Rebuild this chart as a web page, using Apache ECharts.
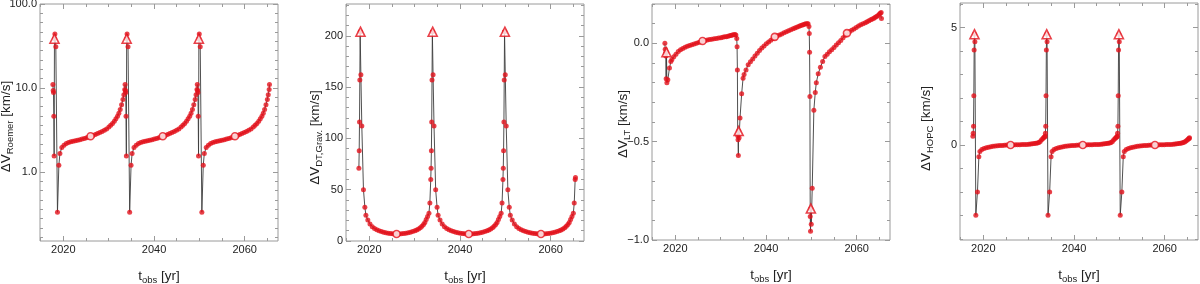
<!DOCTYPE html>
<html><head><meta charset="utf-8">
<script src="https://cdn.jsdelivr.net/npm/echarts@6/dist/echarts.min.js"></script>
<style>html,body{margin:0;padding:0;background:#fff}#c{width:1200px;height:284px}</style>
</head><body><div id="c"></div>
<script>
// observation times [yr]
const tObs = [
2017.70,2017.77,2017.84,2017.91,2017.98,2018.05,2018.14,2018.35,2018.71,2019.02,2019.25,2019.67,
2020.15,2020.65,2021.15,2021.65,2022.15,2022.65,2023.15,2023.65,2024.15,2024.65,2025.15,2025.65,2026.01,
2026.55,2027.05,2027.55,2028.05,2028.55,2029.05,2029.55,2030.05,2030.45,2030.85,2031.25,2031.60,2031.95,
2032.25,2032.55,2032.85,2033.15,2033.35,2033.55,
2033.62,2033.69,2033.76,2033.83,2033.90,2033.97,2034.06,2034.27,2034.63,2034.94,2035.17,2035.59,
2036.07,2036.57,2037.07,2037.57,2038.07,2038.57,2039.07,2039.57,2040.07,2040.57,2041.07,2041.57,2041.93,
2042.47,2042.97,2043.47,2043.97,2044.47,2044.97,2045.47,2045.97,2046.37,2046.77,2047.17,2047.52,2047.87,
2048.17,2048.47,2048.77,2049.07,2049.27,2049.47,
2049.54,2049.61,2049.68,2049.75,2049.82,2049.89,2049.98,2050.19,2050.55,2050.86,2051.09,2051.51,
2051.99,2052.49,2052.99,2053.49,2053.99,2054.49,2054.99,2055.49,2055.99,2056.49,2056.99,2057.49,2057.85,
2058.39,2058.89,2059.39,2059.89,2060.39,2060.89,2061.39,2061.89,2062.29,2062.69,2063.09,2063.44,2063.79,
2064.09,2064.39,2064.69,2064.99,2065.19,2065.39,
2065.46];

const dvRoemer = [
11.0,9.3,8.8,4.6,1.55,38.6,44.0,31.0,0.33,1.2,1.65,1.95,
2.08,2.17,2.24,2.29,2.32,2.35,2.38,2.42,2.46,2.5,2.55,2.61,2.66,
2.72,2.79,2.86,2.94,3.03,3.13,3.25,3.42,3.58,3.78,4.0,4.3,4.6,5.0,5.55,6.3,7.3,8.3,9.6,
11.0,9.3,8.8,4.6,1.55,38.6,44.0,31.0,0.33,1.2,1.65,1.95,
2.08,2.17,2.24,2.29,2.32,2.35,2.38,2.42,2.46,2.5,2.55,2.61,2.66,
2.72,2.79,2.86,2.94,3.03,3.13,3.25,3.42,3.58,3.78,4.0,4.3,4.6,5.0,5.55,6.3,7.3,8.3,9.6,
11.0,9.3,8.8,4.6,1.55,38.6,44.0,31.0,0.33,1.2,1.65,1.95,
2.08,2.17,2.24,2.29,2.32,2.35,2.38,2.42,2.46,2.5,2.55,2.61,2.66,
2.72,2.79,2.86,2.94,3.03,3.13,3.25,3.42,3.58,3.78,4.0,4.3,4.6,5.0,5.55,6.3,7.3,8.3,9.6,
11.0];

const dvGrav = [
71,88,116,157,204,204,162,112,50,33,25,20.5,
16.5,14.0,12.3,11.0,10.0,9.2,8.5,8.0,7.6,7.3,7.05,6.9,6.85,
6.9,7.05,7.3,7.6,8.0,8.5,9.2,10.0,10.8,11.8,13.0,14.3,16.0,18.0,21.0,24,27,37,60,
71,88,116,157,204,204,162,112,50,33,25,20.5,
16.5,14.0,12.3,11.0,10.0,9.2,8.5,8.0,7.6,7.3,7.05,6.9,6.85,
6.9,7.05,7.3,7.6,8.0,8.5,9.2,10.0,10.8,11.8,13.0,14.3,16.0,18.0,21.0,24,27,37,60,
71,88,116,157,204,204,162,112,50,33,25,20.5,
16.5,14.0,12.3,11.0,10.0,9.2,8.5,8.0,7.6,7.3,7.05,6.9,6.85,
6.9,7.05,7.3,7.6,8.0,8.5,9.2,10.0,10.8,11.8,13.0,14.3,16.0,18.0,21.0,24,27,37,60,
62];

const dvLT = [
0.0,-0.03,-0.05,-0.065,-0.18,-0.045,-0.2,-0.185,-0.126,-0.093,-0.082,-0.068,
-0.055,-0.042,-0.032,-0.026,-0.02,-0.015,-0.011,-0.007,-0.003,0.0,0.004,0.008,0.012,
0.014,0.017,0.019,0.021,0.023,0.025,0.027,0.029,0.031,0.033,0.034,0.036,0.038,0.04,0.042,0.044,0.045,0.042,0.025,
-0.017,-0.135,-0.47,-0.49,-0.57,-0.446,-0.48,-0.38,-0.256,-0.177,-0.158,-0.135,
-0.109,-0.094,-0.08,-0.065,-0.05,-0.036,-0.024,-0.013,-0.002,0.007,0.016,0.025,0.033,
0.038,0.043,0.048,0.054,0.059,0.064,0.069,0.074,0.078,0.082,0.086,0.089,0.092,0.095,0.097,0.099,0.1,0.1,0.085,
0.05,-0.045,-0.27,-0.88,-0.956,-0.84,-0.92,-0.737,-0.34,-0.25,-0.2,-0.155,
-0.122,-0.093,-0.067,-0.055,-0.043,-0.032,-0.021,-0.009,0.003,0.015,0.028,0.041,0.052,
0.059,0.066,0.073,0.08,0.088,0.095,0.1,0.105,0.11,0.115,0.12,0.124,0.128,0.132,0.137,0.142,0.148,0.153,0.157,
0.126];

const dvHOPC = [
0.37,0.5,0.8,2.1,4.05,4.72,4.4,-3.0,-2.0,-0.5,-0.28,-0.19,
-0.15,-0.12,-0.095,-0.075,-0.058,-0.045,-0.035,-0.026,-0.018,-0.011,-0.006,-0.002,0.0,
0.003,0.006,0.009,0.012,0.016,0.02,0.025,0.031,0.038,0.047,0.058,0.07,0.087,0.108,0.15,0.22,0.28,0.32,0.35,
0.37,0.5,0.8,2.1,4.05,4.72,4.4,-3.0,-2.0,-0.5,-0.28,-0.19,
-0.15,-0.12,-0.095,-0.075,-0.058,-0.045,-0.035,-0.026,-0.018,-0.011,-0.006,-0.002,0.0,
0.003,0.006,0.009,0.012,0.016,0.02,0.025,0.031,0.038,0.047,0.058,0.07,0.087,0.108,0.15,0.22,0.28,0.32,0.35,
0.37,0.5,0.8,2.1,4.05,4.72,4.4,-3.0,-2.0,-0.5,-0.28,-0.19,
-0.15,-0.12,-0.095,-0.075,-0.058,-0.045,-0.035,-0.026,-0.018,-0.011,-0.006,-0.002,0.0,
0.003,0.006,0.009,0.012,0.016,0.02,0.025,0.031,0.038,0.047,0.058,0.07,0.087,0.108,0.13,0.17,0.21,0.25,0.28,
0.31];

// pericentre (triangles) and apocentre (open circles) markers
const periT = [2018.05, 2033.97, 2049.89];
const apoT = [2026.01, 2041.93, 2057.85];
const roemerPeriV = [38.6, 38.6, 38.6], roemerApoV = [2.66, 2.66, 2.66];
const gravPeriV = [204, 204, 204], gravApoV = [6.85, 6.85, 6.85];
const ltPeriV = [-0.045, -0.446, -0.84], ltApoV = [0.012, 0.033, 0.052];
const hopcPeriV = [4.72, 4.72, 4.72], hopcApoV = [0, 0, 0];

// ticks
const xMajorTicks = [2020, 2040, 2060];
const xMinorTicks = [2015, 2025, 2030, 2035, 2045, 2050, 2055, 2065];
const roemerMajorTicks = [1, 10, 100];
const gravMajorTicks = [0, 50, 100, 150, 200];
const gravMinorTicks = [10,20,30,40,60,70,80,90,110,120,130,140,160,170,180,190,210,220,230];
const ltMajorTicks = [-1.0, -0.5, 0.0];
const ltMinorTicks = [-0.9,-0.8,-0.7,-0.6,-0.4,-0.3,-0.2,-0.1,0.1,0.2];
const hopcMajorTicks = [0, 5];
const hopcMinorTicks = [-4,-3,-2,-1,1,2,3,4,6];

const X_MIN = 2014.86, X_MAX = 2067.34;
const FONT = '"Liberation Sans", Arial, Helvetica, sans-serif';
const FRAME = '#9a9a9a';
const RED = '#e3121b';
const TXT = '#222';

const lg = v => Math.log10(v);
const roemerMinorLog = [];
[-1, 0, 1].forEach(d => { for (let k = 1; k <= 8; k++) { const p = d + k / 9; if (p > lg(0.15) && p < 2) roemerMinorLog.push(p); } });

const panels = [
  { rect: {left: 40, top: 4, width: 238, height: 237}, ymin: lg(0.15), ymax: 2, tr: lg,
    vals: dvRoemer, periV: roemerPeriV, apoV: roemerApoV,
    yMajor: roemerMajorTicks.map(lg), yMinor: roemerMinorLog, fmt: v => Math.pow(10, v).toFixed(1),
    sub: 'Roemer', gap: 25, shift: 4 },
  { rect: {left: 346, top: 4, width: 238, height: 237}, ymin: 0, ymax: 231, tr: v => v,
    vals: dvGrav, periV: gravPeriV, apoV: gravApoV,
    yMajor: gravMajorTicks, yMinor: gravMinorTicks, fmt: v => String(v),
    sub: 'DT,Grav.', gap: 22, shift: 15 },
  { rect: {left: 652, top: 4, width: 238, height: 236}, ymin: -1.0, ymax: 0.2, tr: v => v,
    vals: dvLT, periV: ltPeriV, apoV: ltApoV,
    yMajor: ltMajorTicks, yMinor: ltMinorTicks, fmt: v => (v < 0 ? '\u2212' : '') + Math.abs(v).toFixed(1),
    sub: 'LT', gap: 20, shift: 2 },
  { rect: {left: 960, top: 3, width: 238, height: 237}, ymin: -4.05, ymax: 6.05, tr: v => v,
    vals: dvHOPC, periV: hopcPeriV, apoV: hopcApoV,
    yMajor: hopcMajorTicks, yMinor: hopcMinorTicks, fmt: v => String(v),
    sub: 'HOPC', gap: 25, shift: 7 }
];

const richStyle = {
  m: {fontSize: 13.5, fontFamily: FONT, color: TXT, lineHeight: 17},
  s: {fontSize: 9.5, fontFamily: FONT, color: TXT, lineHeight: 11, verticalAlign: 'bottom'}
};

const grid = [], xAxis = [], yAxis = [], series = [];

function axis(kind, gi, pos, min, max, ticks, len, labelFmt, extra) {
  const a = {
    type: 'value', gridIndex: gi, position: pos, min: min, max: max, scale: false, offset: 0,
    axisLine: {show: false, onZero: false}, splitLine: {show: false}, splitArea: {show: false},
    axisTick: {show: true, inside: true, length: len, customValues: ticks, lineStyle: {color: FRAME, width: 1}},
    axisLabel: labelFmt ? {show: true, customValues: ticks, formatter: labelFmt, margin: 3,
      fontSize: 11, fontFamily: FONT, color: TXT} : {show: false},
    nameMoveOverlap: false
  };
  return Object.assign(a, extra || {});
}

panels.forEach((p, i) => {
  grid.push(Object.assign({show: true, borderColor: FRAME, borderWidth: 1, backgroundColor: 'rgba(0,0,0,0)', containLabel: false, outerBoundsMode: 'none'}, p.rect));
  grid.push(Object.assign({show: false, containLabel: false, outerBoundsMode: 'none'}, p.rect));
  const g0 = 2 * i, g1 = 2 * i + 1;
  xAxis.push(axis('x', g0, 'bottom', X_MIN, X_MAX, xMajorTicks, 5, v => String(v), {
    name: '{m|t}{s|obs}{m| [yr]}', nameLocation: 'middle', nameGap: 27,
    nameTextStyle: {fontFamily: FONT, color: TXT, rich: richStyle}
  }));
  xAxis.push(axis('x', g0, 'top', X_MIN, X_MAX, xMajorTicks, 5, null));
  xAxis.push(axis('x', g1, 'bottom', X_MIN, X_MAX, xMinorTicks, 3, null));
  xAxis.push(axis('x', g1, 'top', X_MIN, X_MAX, xMinorTicks, 3, null));
  yAxis.push(axis('y', g0, 'left', p.ymin, p.ymax, p.yMajor, 5, p.fmt, {
    name: '{m|\u0394V}{s|' + p.sub + '}{m| [km/s]}', nameLocation: 'middle', nameRotate: 90, nameGap: p.gap,
    nameTextStyle: {fontFamily: FONT, color: TXT, rich: richStyle, padding: [0, 2 * p.shift, 0, 0]}
  }));
  yAxis.push(axis('y', g0, 'right', p.ymin, p.ymax, p.yMajor, 5, null));
  yAxis.push(axis('y', g1, 'left', p.ymin, p.ymax, p.yMinor, 3, null));
  yAxis.push(axis('y', g1, 'right', p.ymin, p.ymax, p.yMinor, 3, null));

  const pts = tObs.map((t, k) => [t, p.tr(p.vals[k])]);
  const peri = periT.map((t, k) => [t, p.tr(p.periV[k])]);
  const apo = apoT.map((t, k) => [t, p.tr(p.apoV[k])]);
  const xi = 4 * i, yi = 4 * i;
  series.push({type: 'line', xAxisIndex: xi, yAxisIndex: yi, data: pts, showSymbol: false, symbol: 'none',
    lineStyle: {color: '#3c3c3c', width: 0.9}, z: 2, silent: true});
  series.push({type: 'scatter', xAxisIndex: xi, yAxisIndex: yi, data: pts, symbol: 'circle', symbolSize: 5,
    itemStyle: {color: RED}, z: 3, silent: true});
  series.push({type: 'scatter', xAxisIndex: xi, yAxisIndex: yi, data: peri, symbol: 'triangle', symbolSize: 9,
    itemStyle: {color: '#ffffff', borderColor: RED, borderWidth: 1.6}, z: 4, silent: true});
  series.push({type: 'scatter', xAxisIndex: xi, yAxisIndex: yi, data: apo, symbol: 'circle', symbolSize: 7,
    itemStyle: {color: '#ffffff', borderColor: RED, borderWidth: 1.6}, z: 4, silent: true});
});

const chart = echarts.init(document.getElementById('c'), null, {renderer: 'canvas'});
chart.setOption({animation: false, backgroundColor: '#ffffff', grid, xAxis, yAxis, series});
</script></body></html>
